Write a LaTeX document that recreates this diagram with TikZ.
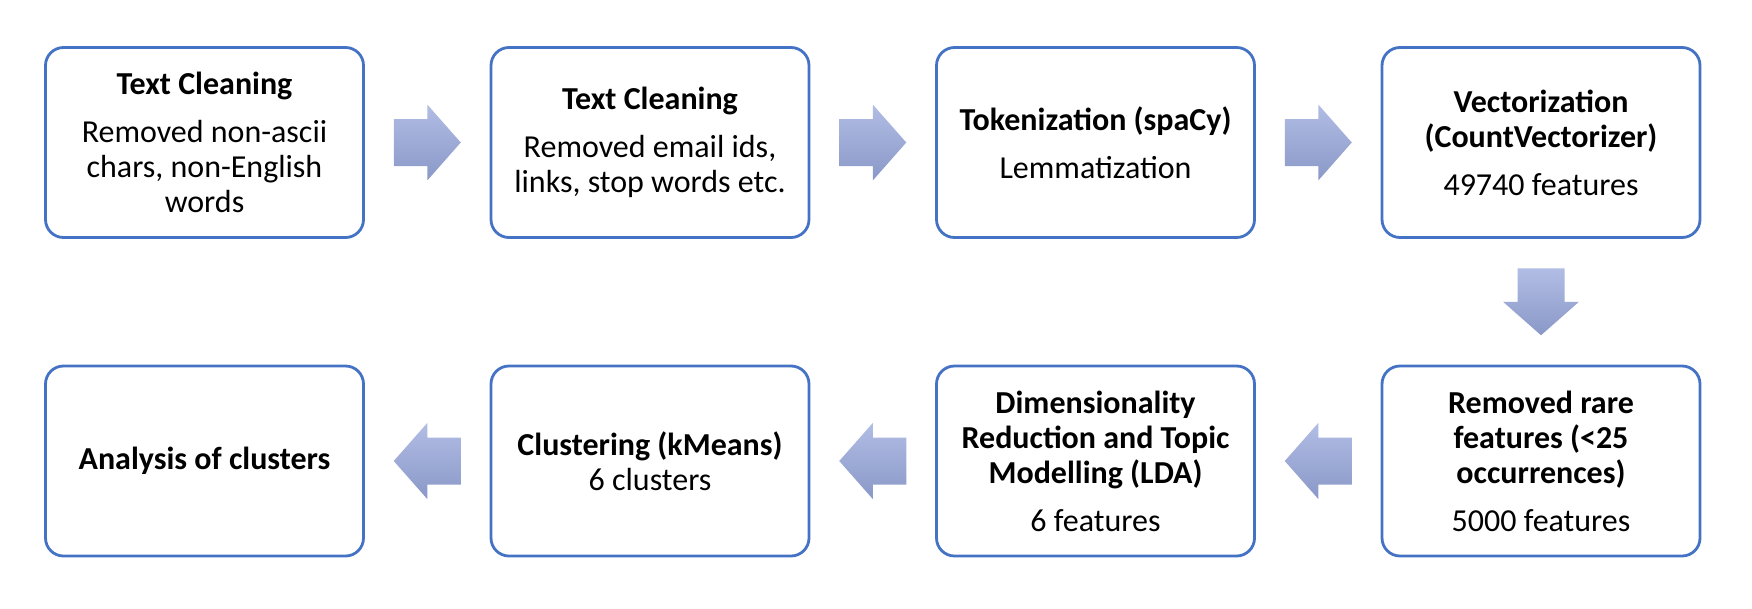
\documentclass[tikz,border=0pt]{standalone}
\usepackage{fontspec}
\setmainfont{Carlito}
\usetikzlibrary{calc}
\definecolor{boxblue}{HTML}{4472C4}
\definecolor{arrtop}{HTML}{B1BDE4}
\definecolor{arrbot}{HTML}{8A98C8}
\tikzset{
  stepbox/.style={draw=boxblue, line width=2.8pt, rounded corners=18pt,
    minimum width=318pt, minimum height=190pt, align=center, inner sep=0pt,
    fill=white, font=\fontsize{32}{35}\selectfont},
  arrowfill/.style={top color=arrtop, bottom color=arrbot, draw=none}
}
\newcommand\arrRight[2]{%
  \begin{scope}[shift={($(#1)!0.5!(#2)$)}]
    \path[arrowfill] (-33.5,-23.5) -- (0,-23.5) -- (0,-38) -- (33.5,0) -- (0,38) -- (0,23.5) -- (-33.5,23.5) -- cycle;
  \end{scope}}
\newcommand\arrLeft[2]{%
  \begin{scope}[shift={($(#1)!0.5!(#2)$)}]
    \path[arrowfill] (33.5,-23.5) -- (0,-23.5) -- (0,-38) -- (-33.5,0) -- (0,38) -- (0,23.5) -- (33.5,23.5) -- cycle;
  \end{scope}}
\newcommand\arrDown[2]{%
  \begin{scope}[shift={($(#1)!0.5!(#2)$)}]
    \path[arrowfill] (-23.5,-33.5) -- (23.5,-33.5) -- (23.5,0) -- (38,0) -- (0,33.5) -- (-38,0) -- (-23.5,0) -- cycle;
  \end{scope}}
\begin{document}
\begin{tikzpicture}[x=1pt, y=-1pt]
\useasboundingbox (0,0) rectangle (1752,608);
% top row
\node[stepbox] (b1) at (204.5,142.5) {{\bfseries Text Cleaning}\\[13pt]Removed non-ascii\\chars, non-English\\words};
\node[stepbox] (b2) at (650,142.5) {{\bfseries Text Cleaning}\\[13pt]Removed email ids,\\links, stop words etc.};
\node[stepbox] (b3) at (1095.5,142.5) {{\bfseries Tokenization (spaCy)}\\[13pt]Lemmatization};
\node[stepbox] (b4) at (1541,142.5) {{\bfseries Vectorization}\\{\bfseries (CountVectorizer)}\\[13pt]49740 features};
% bottom row
\node[stepbox] (b5) at (1541,461) {{\bfseries Removed rare}\\{\bfseries features (<25}\\{\bfseries occurrences)}\\[13pt]5000 features};
\node[stepbox] (b6) at (1095.5,461) {{\bfseries Dimensionality}\\{\bfseries Reduction and Topic}\\{\bfseries Modelling (LDA)}\\[13pt]6 features};
\node[stepbox] (b7) at (650,461) {{\bfseries Clustering (kMeans)}\\6 clusters};
\node[stepbox] (b8) at (204.5,461) {{\bfseries Analysis of clusters}};
% arrows
\arrRight{b1}{b2}
\arrRight{b2}{b3}
\arrRight{b3}{b4}
\arrDown{b4}{b5}
\arrLeft{b5}{b6}
\arrLeft{b6}{b7}
\arrLeft{b7}{b8}
\end{tikzpicture}
\end{document}
